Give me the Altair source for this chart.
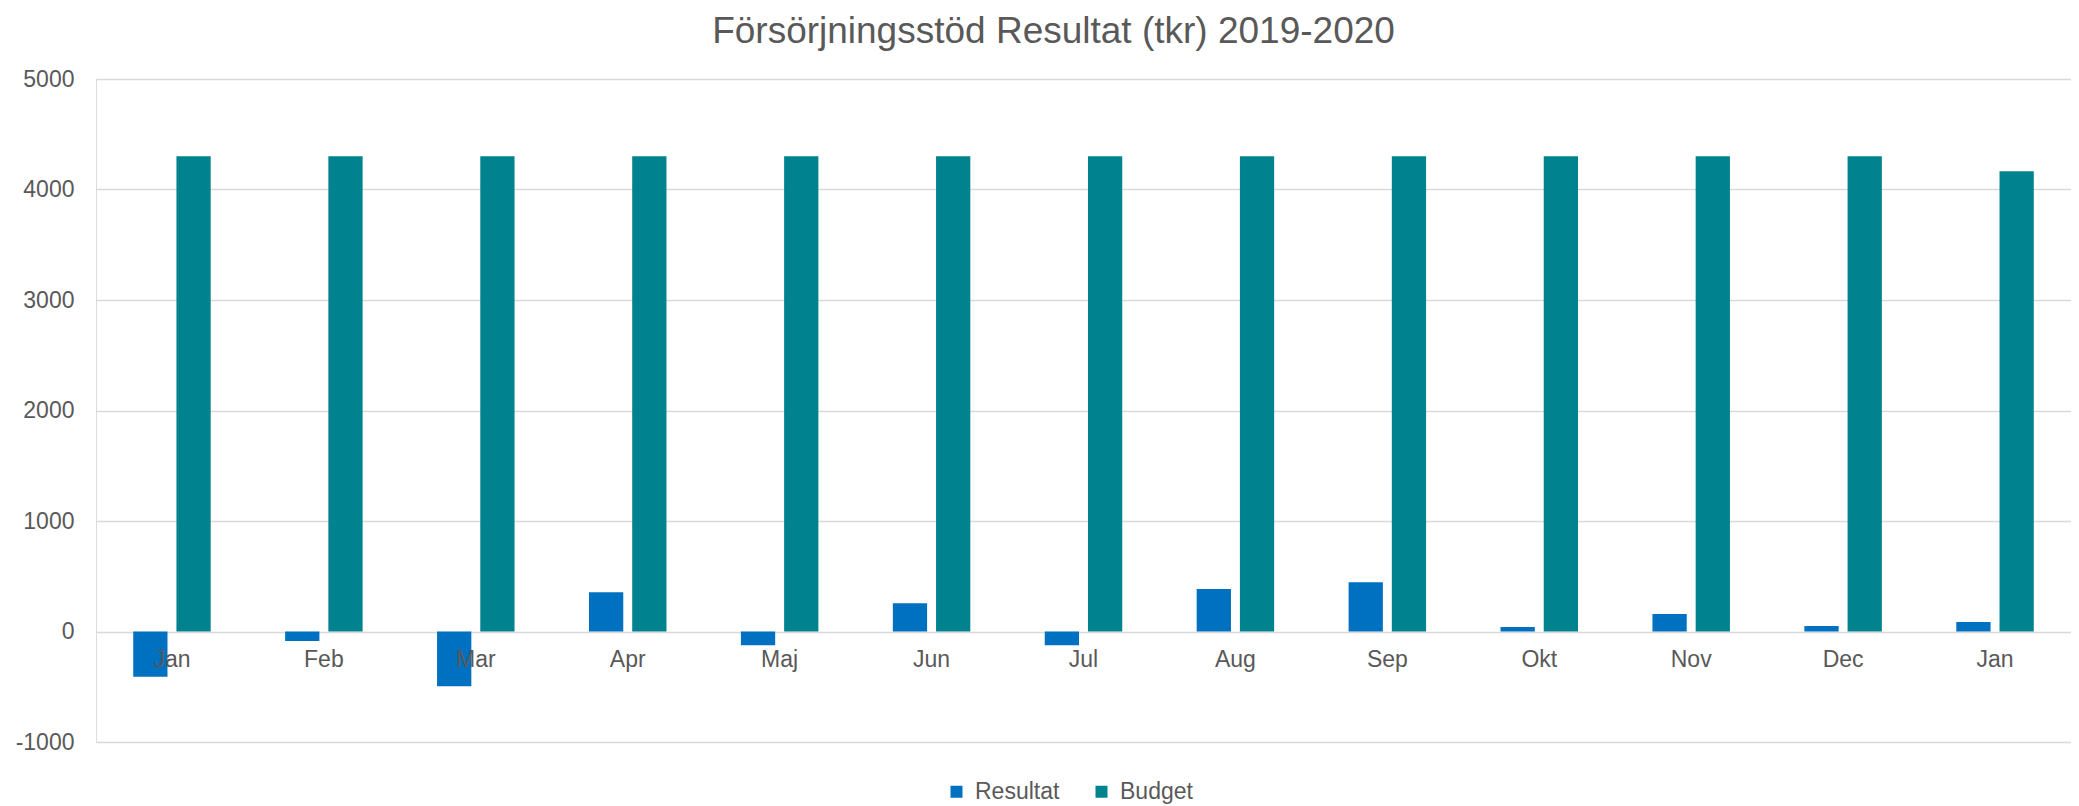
import altair as alt
import pandas as pd

months = ["Jan 2019", "Feb 2019", "Mar 2019", "Apr 2019", "Maj 2019", "Jun 2019",
          "Jul 2019", "Aug 2019", "Sep 2019", "Okt 2019", "Nov 2019", "Dec 2019", "Jan 2020"]
resultat = [-410, -85, -495, 355, -125, 255, -125, 385, 445, 40, 158, 50, 86]
budget = [4300, 4300, 4300, 4300, 4300, 4300, 4300, 4300, 4300, 4300, 4300, 4300, 4165]
series = ["Resultat", "Budget"]
colors = ["#0070C0", "#00838F"]
y_ticks = [-1000, 0, 1000, 2000, 3000, 4000, 5000]

rows = []
for m, r, b in zip(months, resultat, budget):
    rows.append({"month": m, "series": "Resultat", "value": r})
    rows.append({"month": m, "series": "Budget", "value": b})
df = pd.DataFrame(rows)

TXT = "#595959"
FONT = "Liberation Sans"

chart = alt.Chart(df).mark_bar().encode(
    x=alt.X("month:N", sort=months,
            scale=alt.Scale(paddingInner=0.49, paddingOuter=0.245),
            axis=alt.Axis(title=None, labelExpr="split(datum.label, ' ')[0]",
                          ticks=False, domain=False, grid=False, labelAngle=0,
                          labelFontSize=23, labelColor=TXT, labelFont=FONT,
                          labelPadding=17, offset=-110.5, zindex=1)),
    xOffset=alt.XOffset("series:N", sort=series,
                        scale=alt.Scale(paddingInner=0.207, paddingOuter=0)),
    y=alt.Y("value:Q", scale=alt.Scale(domain=[-1000, 5000], nice=False, zero=False),
            axis=alt.Axis(title=None, values=y_ticks, labelExpr="'' + datum.value",
                          ticks=False, domain=False,
                          gridColor="#d9d9d9", gridWidth=1.5,
                          labelFontSize=23, labelColor=TXT, labelFont=FONT,
                          labelPadding=22)),
    color=alt.Color("series:N", sort=series,
                    scale=alt.Scale(domain=series, range=colors),
                    legend=alt.Legend(title=None, orient="none", legendX=849, legendY=701,
                                      direction="horizontal", symbolType="square",
                                      symbolSize=144, symbolStrokeWidth=0,
                                      labelFontSize=23, labelColor=TXT, labelFont=FONT,
                                      columnPadding=30, labelOffset=7, padding=0)),
).properties(
    width=1975,
    height=663,
    title=alt.TitleParams("Försörjningsstöd Resultat (tkr) 2019-2020", fontSize=37,
                          color=TXT, font=FONT, fontWeight="normal", anchor="middle",
                          frame="group", dx=-30, offset=17),
    autosize=alt.AutoSizeParams(type="none"),
    padding={"left": 88, "top": 71, "right": 0, "bottom": 64},
).configure_view(stroke=None).configure(font=FONT)

chart.save("out.html", embed_options={"renderer": "svg", "actions": False})
